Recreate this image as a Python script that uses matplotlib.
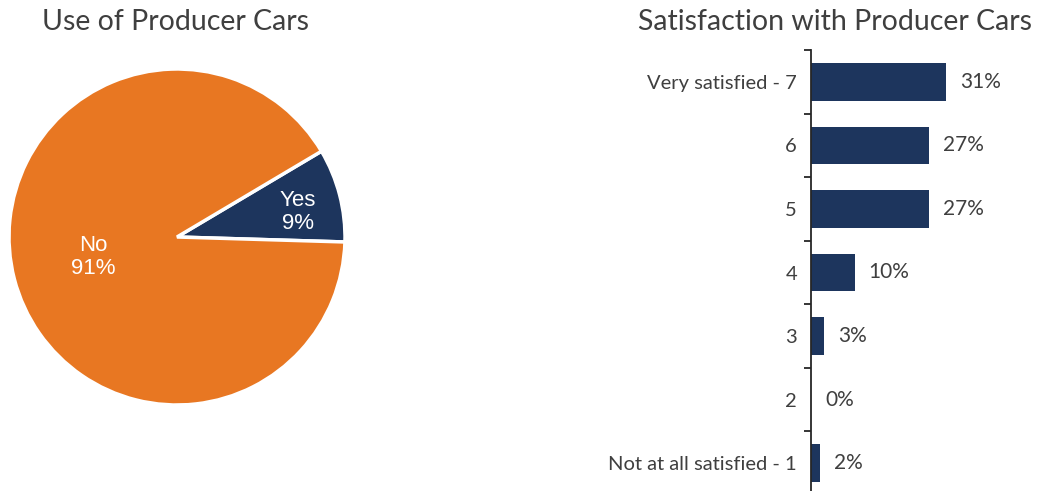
import matplotlib
matplotlib.use('Agg')
import matplotlib.pyplot as plt
import numpy as np

# Use of producer cars
use_labels = ['Yes', 'No']
use_values = [9, 91]

# Satisfaction scale, top to bottom
sat_labels = ['Very satisfied - 7', '6', '5', '4', '3', '2', 'Not at all satisfied - 1']
sat_values = [31, 27, 27, 10, 3, 0, 2]

ORANGE = '#E87722'
NAVY = '#1D355D'
TEXT = '#3F3F3F'
W, H = 1037, 491

plt.rcParams['font.family'] = ['Lato', 'DejaVu Sans']

fig = plt.figure(figsize=(W / 100, H / 100), dpi=100)

# pie: centre (177, 237) px, radius 168 px
cx, cy, r = 177, 237, 168
pad = 1.03
ax1 = fig.add_axes([(cx - r * pad) / W, (H - cy - r * pad) / H, 2 * r * pad / W, 2 * r * pad / H])
wedges, _ = ax1.pie(use_values, colors=[NAVY, ORANGE], startangle=-1.7, counterclock=True,
                    radius=1, wedgeprops=dict(edgecolor='white', linewidth=2.5))
ax1.set_xlim(-pad, pad)
ax1.set_ylim(-pad, pad)
ax1.set_aspect('equal')

pie_font = ['Liberation Sans', 'DejaVu Sans']
ax1.text(0.72, 0.15, f'{use_labels[0]}\n{use_values[0]}%', color='white', ha='center', va='center',
         fontsize=16, family=pie_font, linespacing=1.1)
ax1.text(-0.5, -0.12, f'{use_labels[1]}\n{use_values[1]}%', color='white', ha='center', va='center',
         fontsize=16, family=pie_font, linespacing=1.1)

fig.text(175 / W, 1 - 22 / H, 'Use of Producer Cars', ha='center', va='center', fontsize=20.5, color=TEXT)

# bar chart
top, bottom = 50, 495
ax2 = fig.add_axes([811 / W, (H - bottom) / H, 180 / W, (bottom - top) / H])
y = np.arange(len(sat_values))[::-1]
ax2.barh(y, sat_values, height=0.59, color=NAVY)
ax2.set_ylim(-0.5, len(sat_values) - 0.5)
ax2.set_xlim(0, 180 / 4.36)

for yi, v in zip(y, sat_values):
    ax2.text(v + 3.2, yi, f'{v}%', va='center', ha='left', fontsize=15, color=TEXT)

ax2.set_yticks(y)
ax2.set_yticklabels(sat_labels, fontsize=14.5, color=TEXT)
ax2.set_yticks(np.arange(-0.5, len(sat_values)), minor=True)
ax2.tick_params(axis='y', which='major', length=0, pad=10)
ax2.tick_params(axis='y', which='minor', length=5, width=1.3, color='#262626', direction='out')
ax2.set_xticks([])
for side in ['top', 'right', 'bottom']:
    ax2.spines[side].set_visible(False)
ax2.spines['left'].set_color('#262626')
ax2.spines['left'].set_linewidth(1.3)

fig.text(835 / W, 1 - 22 / H, 'Satisfaction with Producer Cars', ha='center', va='center', fontsize=20.5, color=TEXT)

fig.savefig('out.png', dpi=100)
